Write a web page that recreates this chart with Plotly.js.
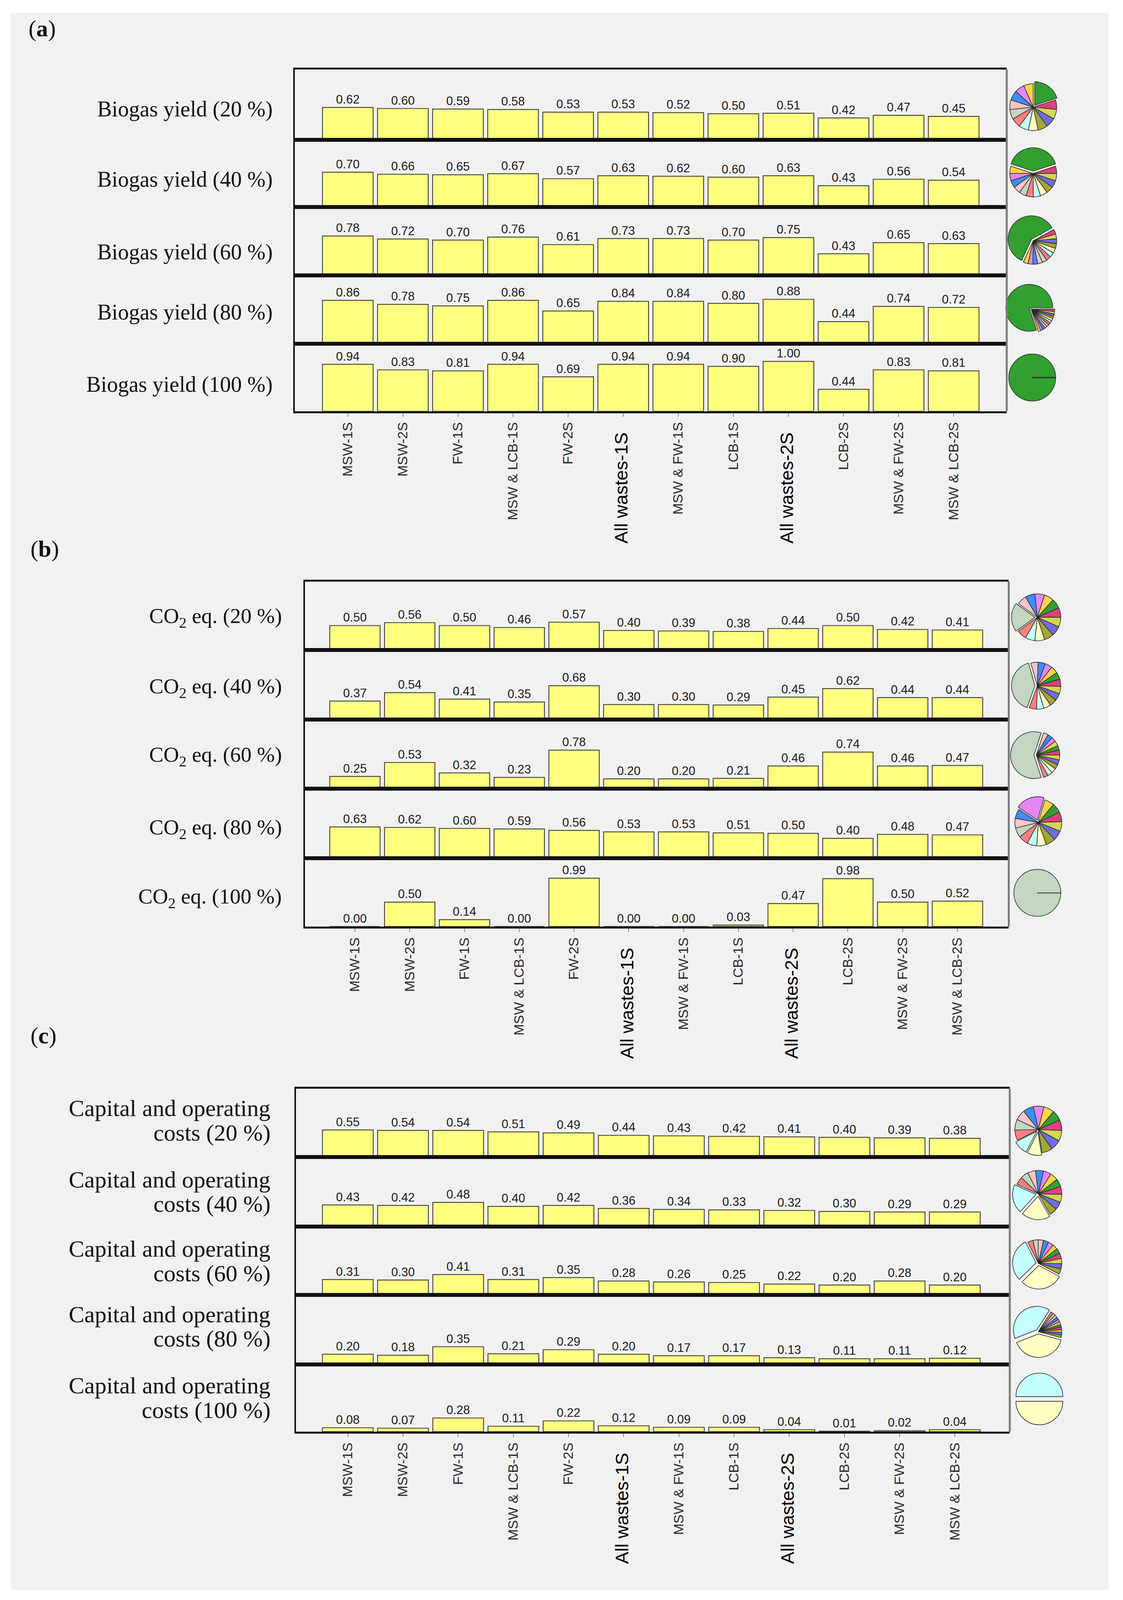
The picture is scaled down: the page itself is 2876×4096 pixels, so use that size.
<!DOCTYPE html>
<html>
<head>
<meta charset="utf-8">
<script src="https://cdn.plot.ly/plotly-3.0.1.min.js"></script>
<style>
html,body{margin:0;padding:0;background:#ffffff;}
#chart{width:2876px;height:4096px;}
</style>
</head>
<body>
<div id="chart"></div>
<script>
// ---------------- DATA ----------------
const categories = ['MSW-1S','MSW-2S','FW-1S','MSW & LCB-1S','FW-2S','All wastes-1S','MSW & FW-1S','LCB-1S','All wastes-2S','LCB-2S','MSW & FW-2S','MSW & LCB-2S'];
const weightLevels = ['20','40','60','80','100'];

// (a) Biogas yield
const biogas20  = [0.62,0.60,0.59,0.58,0.53,0.53,0.52,0.50,0.51,0.42,0.47,0.45];
const biogas40  = [0.70,0.66,0.65,0.67,0.57,0.63,0.62,0.60,0.63,0.43,0.56,0.54];
const biogas60  = [0.78,0.72,0.70,0.76,0.61,0.73,0.73,0.70,0.75,0.43,0.65,0.63];
const biogas80  = [0.86,0.78,0.75,0.86,0.65,0.84,0.84,0.80,0.88,0.44,0.74,0.72];
const biogas100 = [0.94,0.83,0.81,0.94,0.69,0.94,0.94,0.90,1.00,0.44,0.83,0.81];

// (b) CO2 eq.
const co2_20  = [0.50,0.56,0.50,0.46,0.57,0.40,0.39,0.38,0.44,0.50,0.42,0.41];
const co2_40  = [0.37,0.54,0.41,0.35,0.68,0.30,0.30,0.29,0.45,0.62,0.44,0.44];
const co2_60  = [0.25,0.53,0.32,0.23,0.78,0.20,0.20,0.21,0.46,0.74,0.46,0.47];
const co2_80  = [0.63,0.62,0.60,0.59,0.56,0.53,0.53,0.51,0.50,0.40,0.48,0.47];
const co2_100 = [0.00,0.50,0.14,0.00,0.99,0.00,0.00,0.03,0.47,0.98,0.50,0.52];

// (c) Capital and operating costs
const cost20  = [0.55,0.54,0.54,0.51,0.49,0.44,0.43,0.42,0.41,0.40,0.39,0.38];
const cost40  = [0.43,0.42,0.48,0.40,0.42,0.36,0.34,0.33,0.32,0.30,0.29,0.29];
const cost60  = [0.31,0.30,0.41,0.31,0.35,0.28,0.26,0.25,0.22,0.20,0.28,0.20];
const cost80  = [0.20,0.18,0.35,0.21,0.29,0.20,0.17,0.17,0.13,0.11,0.11,0.12];
const cost100 = [0.08,0.07,0.28,0.11,0.22,0.12,0.09,0.09,0.04,0.01,0.02,0.04];

// criterion weights shown in the pies (13 criteria, %)
const criteriaColors = ['#31a030','#d9437e','#d6d650','#6e6ee0','#a5a535','#ffffc4','#c4ffff','#ff8080','#c2d6c2','#ffc4c4','#3d8ef5','#e586f5','#ffd247'];
const pieA20  = [20,6.67,6.67,6.67,6.67,6.67,6.67,6.67,6.67,6.67,6.67,6.67,6.67];
const pieA40  = [40,5,5,5,5,5,5,5,5,5,5,5,5];
const pieA60  = [60,3.33,3.33,3.33,3.33,3.33,3.33,3.33,3.33,3.33,3.33,3.33,3.33];
const pieA80  = [80,1.67,1.67,1.67,1.67,1.67,1.67,1.67,1.67,1.67,1.67,1.67,1.67];
const pieA100 = [100,0,0,0,0,0,0,0,0,0,0,0,0];
const pieB20  = [6.67,6.67,6.67,6.67,6.67,6.67,6.67,6.67,20,6.67,6.67,6.67,6.67];
const pieB40  = [5,5,5,5,5,5,5,5,40,5,5,5,5];
const pieB60  = [3.33,3.33,3.33,3.33,3.33,3.33,3.33,3.33,60,3.33,3.33,3.33,3.33];
const pieB80  = [6.67,6.67,6.67,6.67,6.67,6.67,6.67,6.67,6.67,6.67,6.67,20,6.67];
const pieB100 = [0,0,0,0,0,0,0,0,100,0,0,0,0];
const pieC20  = [7.27,7.27,7.27,7.27,7.27,10,10,7.27,7.27,7.27,7.27,7.27,7.27];
const pieC40  = [5.45,5.45,5.45,5.45,5.45,20,20,5.45,5.45,5.45,5.45,5.45,5.45];
const pieC60  = [3.64,3.64,3.64,3.64,3.64,30,30,3.64,3.64,3.64,3.64,3.64,3.64];
const pieC80  = [1.82,1.82,1.82,1.82,1.82,40,40,1.82,1.82,1.82,1.82,1.82,1.82];
const pieC100 = [0,0,0,0,0,50,50,0,0,0,0,0,0];

// ---------------- LAYOUT HELPERS ----------------
// positions are measured on a 1101 x 1568 sketch of the figure
const W = 2876, H = 4096;
const PX = s => s / 1101;          // sketch x -> paper x
const PY = s => 1 - s / 1568;      // sketch y -> paper y

const panels = [
  { tag:'a', x0:289, x1:987, rows:[68,137,203,270,337,403], c0:341, step:54.0, ymax:1.35,
    series:[biogas20,biogas40,biogas60,biogas80,biogas100],
    pies:[pieA20,pieA40,pieA60,pieA80,pieA100], pulled:[[0],[0],[0],[0],[]], zeroEdges:[1,1,1,1,1],
    rot:[0,-72,205,162,90], pieC:[[1013,105],[1013,170],[1013,236],[1011,303],[1012,370]],
    labX:268, labY:[107,176,247,306,377], tagPos:[27,28], labSize:56,
    label:w => 'Biogas yield (' + w + ' %)' },
  { tag:'b', x0:299, x1:989, rows:[570,637,705,773,841,908], c0:348, step:53.7, ymax:1.4,
    series:[co2_20,co2_40,co2_60,co2_80,co2_100],
    pies:[pieB20,pieB40,pieB60,pieB80,pieB100], pulled:[[8],[8],[8],[11],[]], zeroEdges:[1,1,1,1,1],
    rot:[42,56,66,40,90], pieC:[[1017,605],[1017,672],[1016,740],[1018,806],[1017,875]],
    labX:277, labY:[605,674,741,812,880], tagPos:[29,538], labSize:55,
    label:w => 'CO<sub>2</sub> eq. (' + w + ' %)' },
  { tag:'c', x0:290, x1:990, rows:[1067,1134,1202,1269,1337,1403], c0:341, step:54.1, ymax:1.38,
    series:[cost20,cost40,cost60,cost80,cost100],
    pies:[pieC20,pieC40,pieC60,pieC80,pieC100], pulled:[[5,6],[5,6],[5,6],[5,6],[5,6]], zeroEdges:[1,1,1,1,0],
    rot:[40,52,52,72,90], pieC:[[1018,1107],[1018,1170],[1018,1238],[1018,1305],[1019,1371]],
    labX:266, labY:[1086,1156,1224,1288,1358], labY2:[1110,1180,1248,1312,1382], tagPos:[29,1015], labSize:60,
    label:w => 'Capital and operating', label2:w => 'costs (' + w + ' %)' }
];

const data = [];
const layout = {
  width: W, height: H, autosize: false,
  margin: {l:0, r:0, t:0, b:0, pad:0},
  paper_bgcolor: '#ffffff', plot_bgcolor: 'rgba(0,0,0,0)',
  showlegend: false,
  annotations: [], shapes: [],
  font: {family: 'Liberation Sans, Arial, sans-serif', color: '#111'}
};

layout.shapes.push({type:'rect', xref:'paper', yref:'paper', layer:'below',
  x0:PX(10.5), x1:PX(1087), y0:PY(1558), y1:PY(12.5), fillcolor:'#f1f1f1', line:{width:0}});

const serif = 'Liberation Serif, Times New Roman, serif';
const tickText = categories.map(c => c.startsWith('All wastes')
  ? '<span style="font-size:47px;fill:#000">' + c + '\u00a0\u00a0</span>' : c);

let n = 0;
panels.forEach(p => {
  const xr = [(p.x0 - p.c0) / p.step, (p.x1 - p.c0) / p.step];
  for (let r = 0; r < 5; r++) {
    n++;
    const xa = n === 1 ? 'x' : 'x' + n;
    const ya = n === 1 ? 'y' : 'y' + n;
    const bottom = r === 4;
    data.push({
      type:'bar', x:categories, y:p.series[r], xaxis:xa, yaxis:ya,
      width:0.92,
      marker:{color:'#ffff80', line:{color:'#3c3c3c', width:2.2}},
      texttemplate:'%{y:.2f}', textposition:'outside', cliponaxis:false, constraintext:'none',
      textfont:{family:'Liberation Sans, Arial, sans-serif', size:31, color:'#1a1a1a'},
      hoverinfo:'skip'
    });
    layout['xaxis' + (n === 1 ? '' : n)] = {
      domain:[PX(p.x0), PX(p.x1)], anchor:ya, type:'category', range:xr,
      showgrid:false, zeroline:false, showline:true, linecolor:'#111', linewidth:5, mirror:true,
      ticks: bottom ? 'outside' : '', ticklen:9, tickwidth:2, tickcolor:'#8a8a8a',
      showticklabels: bottom, tickangle:-90,
      tickmode:'array', tickvals:categories, ticktext:tickText,
      tickfont:{family:'Liberation Sans, Arial, sans-serif', size:35, color:'#2a2a2a'},
      fixedrange:true
    };
    layout['yaxis' + (n === 1 ? '' : n)] = {
      domain:[PY(p.rows[r + 1]), PY(p.rows[r])], anchor:xa, range:[0, p.ymax],
      showgrid:false, zeroline:false, showline:true, linecolor:'#111', linewidth:4, mirror:false,
      showticklabels:false, ticks:'', fixedrange:true
    };

    // pie of criterion weights
    const pullV = p.pies[r].map((v, i) => p.pulled[r].includes(i) ? 0.1 : 0);
    const edgeW = p.pies[r].map(v => (v === 0 && !p.zeroEdges[r]) ? 0 : 1.6);
    const maxPull = Math.max(...pullV);
    const rad = 23, half = rad * (1 + maxPull);
    const [cx, cy] = p.pieC[r];
    data.push({
      type:'pie', values:p.pies[r], sort:false, direction:'clockwise', rotation:p.rot[r],
      pull:pullV, textinfo:'none', hoverinfo:'skip', showlegend:false,
      marker:{colors:criteriaColors, line:{color:'#2a2a2a', width:edgeW}},
      domain:{x:[PX(cx - half), PX(cx + half)], y:[PY(cy + half), PY(cy - half)]}
    });

    // row label
    layout.annotations.push({xref:'paper', yref:'paper', x:PX(p.labX), y:PY(p.labY[r]),
      xanchor:'right', yanchor:'middle', showarrow:false, text:p.label(weightLevels[r]),
      font:{family:serif, size:p.labSize, color:'#111'}});
    if (p.label2) {
      layout.annotations.push({xref:'paper', yref:'paper', x:PX(p.labX), y:PY(p.labY2[r]),
        xanchor:'right', yanchor:'middle', showarrow:false, text:p.label2(weightLevels[r]),
        font:{family:serif, size:p.labSize, color:'#111'}});
    }
  }
  // right border of the box (grey)
  layout.shapes.push({type:'line', xref:'paper', yref:'paper',
    x0:PX(p.x1), x1:PX(p.x1), y0:PY(p.rows[5]), y1:PY(p.rows[0]), line:{color:'#7a7a7a', width:5}});
  // panel tag
  layout.annotations.push({xref:'paper', yref:'paper', x:PX(p.tagPos[0]), y:PY(p.tagPos[1]),
    xanchor:'left', yanchor:'middle', showarrow:false, text:'(<b>' + p.tag + '</b>)',
    font:{family:serif, size:60, color:'#111'}});
});

Plotly.newPlot('chart', data, layout, {staticPlot:true, displayModeBar:false});
</script>
</body>
</html>
